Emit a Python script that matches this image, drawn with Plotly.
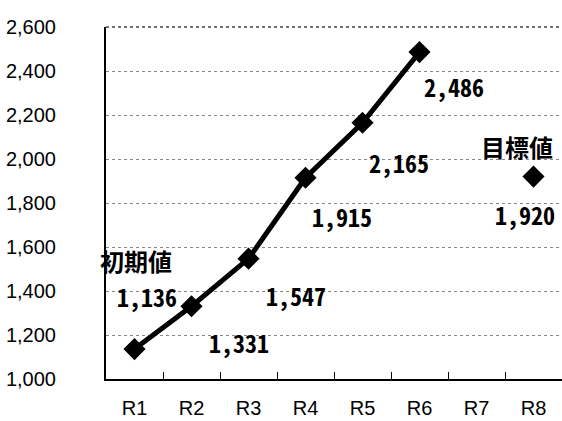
import plotly.graph_objects as go

# 年度ごとの実績値と目標値
categories = ["R1", "R2", "R3", "R4", "R5", "R6", "R7", "R8"]
actual_x = [1, 2, 3, 4, 5, 6]
actual_values = [1136, 1331, 1547, 1915, 2165, 2486]
target_x = [8]
target_values = [1920]
y_ticks = [1000, 1200, 1400, 1600, 1800, 2000, 2200, 2400, 2600]

label_font = dict(family="Noto Sans Mono CJK JP, Noto Sans CJK JP", size=24,
                  color="black", weight="bold")
tick_font = dict(family="Liberation Sans, Arial", size=20, color="black")

fig = go.Figure()
fig.add_trace(go.Scatter(
    x=actual_x, y=actual_values, mode="lines+markers",
    line=dict(color="black", width=5),
    marker=dict(symbol="diamond", size=17, color="black"),
    hoverinfo="skip", showlegend=False,
))
fig.add_trace(go.Scatter(
    x=target_x, y=target_values, mode="markers",
    marker=dict(symbol="diamond", size=17, color="black"),
    hoverinfo="skip", showlegend=False,
))

# データラベルのずらし量 (x, y)
offsets = [(12, 53), (47, -36), (47, -37), (36, -39), (36, -40), (34, -34)]
for xv, yv, (dx, dy) in zip(actual_x, actual_values, offsets):
    fig.add_annotation(x=xv, y=yv, text=f"{yv:,}", showarrow=False,
                       xshift=dx, yshift=dy, font=label_font)
fig.add_annotation(x=actual_x[0], y=actual_values[0], text="初期値", showarrow=False,
                   xshift=1, yshift=89, font=label_font)
for xv, yv in zip(target_x, target_values):
    fig.add_annotation(x=xv, y=yv, text=f"{yv:,}", showarrow=False,
                       xshift=-9, yshift=-38, font=label_font)
    fig.add_annotation(x=xv, y=yv, text="目標値", showarrow=False,
                       xshift=-17, yshift=30, font=label_font)

# 上端の枠線
fig.add_shape(type="line", xref="paper", yref="paper", x0=0, x1=1, y0=1, y1=1,
              line=dict(color="#444444", width=1.5, dash="dot"))

fig.update_layout(
    width=562, height=421,
    margin=dict(l=106, r=0, t=27, b=42),
    paper_bgcolor="white", plot_bgcolor="white",
    font=tick_font,
)
fig.update_xaxes(
    range=[0.5, 8.5], tickvals=list(range(1, 9)), ticktext=categories,
    showgrid=False, zeroline=False, showline=True, linecolor="black", linewidth=2,
    ticks="", ticklabelstandoff=10, automargin=False,
    minor=dict(tickvals=[1.5, 2.5, 3.5, 4.5, 5.5, 6.5, 7.5], ticks="inside",
               ticklen=7, tickcolor="black", tickwidth=1, showgrid=False),
    tickfont=tick_font,
)
fig.update_yaxes(
    range=[1000, 2600], tickvals=y_ticks, ticktext=[f"{v:,}" for v in y_ticks],
    showgrid=True, gridcolor="#888888", griddash="dot", gridwidth=1,
    zeroline=False, showline=True, linecolor="black", linewidth=2,
    ticks="", ticklabelstandoff=44, automargin=False, tickfont=tick_font,
)

fig.write_html("out.html")
